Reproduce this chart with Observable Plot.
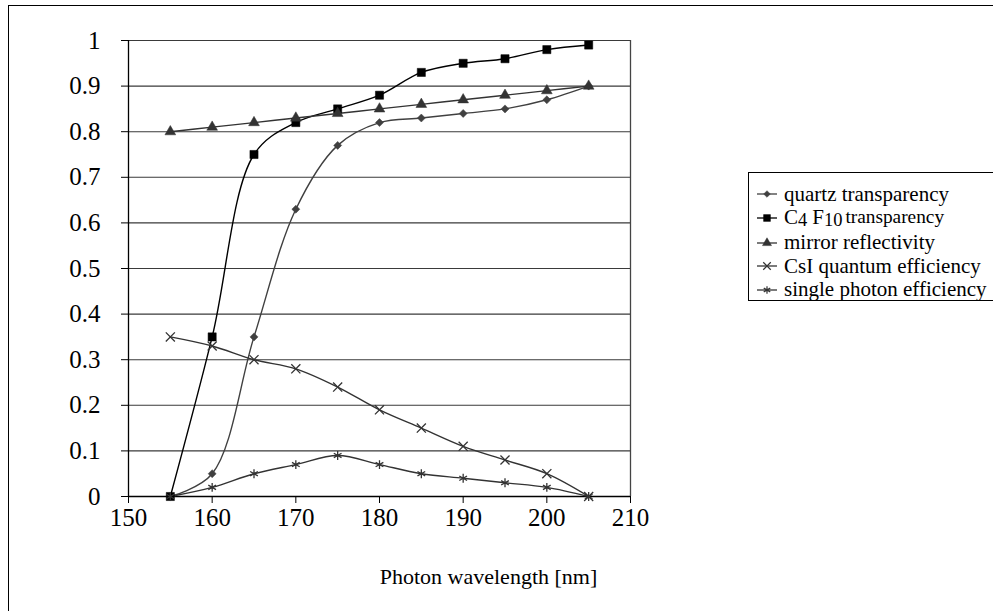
<!DOCTYPE html>
<html><head><meta charset="utf-8">
<script src="https://cdn.jsdelivr.net/npm/d3@7"></script>
<script src="https://cdn.jsdelivr.net/npm/@observablehq/plot@0.6"></script>
<style>
html,body{margin:0;padding:0;background:#fff;}
#wrap{position:relative;width:993px;height:611px;overflow:hidden;font-family:"Liberation Serif","Times New Roman",serif;}
#frame{position:absolute;left:8px;top:5px;width:1000px;height:620px;border:1.5px solid #000;box-sizing:border-box;}
#chart{position:absolute;left:0;top:0;}
#legend{position:absolute;left:748px;top:172px;width:260px;height:129px;border:1px solid #000;box-sizing:border-box;background:#fff;}
.item{position:absolute;left:8px;height:24px;display:flex;align-items:center;font-size:21px;color:#000;white-space:nowrap;line-height:1;}
.item svg{margin-right:7px;flex:none;}
.pc{display:inline-block;}
.sb{display:inline-block;position:relative;top:2px;font-size:88%;}
.up{display:inline-block;font-size:92%;position:relative;top:-1px;margin-left:3px;}
</style></head>
<body><div id="wrap"><div id="frame"></div><div id="chart"></div><div id="legend"></div></div>
<script>
const wavelength = [155,160,165,170,175,180,185,190,195,200,205];
const quartz = [0,0.05,0.35,0.63,0.77,0.82,0.83,0.84,0.85,0.87,0.90];
const c4f10 = [0,0.35,0.75,0.82,0.85,0.88,0.93,0.95,0.96,0.98,0.99];
const mirror = [0.80,0.81,0.82,0.83,0.84,0.85,0.86,0.87,0.88,0.89,0.90];
const csi = [0.35,0.33,0.30,0.28,0.24,0.19,0.15,0.11,0.08,0.05,0.00];
const single = [0,0.02,0.05,0.07,0.09,0.07,0.05,0.04,0.03,0.02,0.00];
const seriesNames = ["quartz transparency","C4F10 transparency","mirror reflectivity","CsI quantum efficiency","single photon efficiency"];
const yTicks = [0,0.1,0.2,0.3,0.4,0.5,0.6,0.7,0.8,0.9,1];
const xTicks = [150,160,170,180,190,200,210];

const seriesDefs = [
  {name: seriesNames[0], values: quartz, color: "#404040", symbol: "diamond2", r: 3.6, filled: true},
  {name: seriesNames[1], values: c4f10, color: "#000000", symbol: "square", r: 4.6, filled: true},
  {name: seriesNames[2], values: mirror, color: "#333333", symbol: "triangle", r: 4, filled: true},
  {name: seriesNames[3], values: csi, color: "#333333", symbol: "times", r: 4.2, filled: false},
  {name: seriesNames[4], values: single, color: "#333333", symbol: "asterisk", r: 4.2, filled: false}
];

const marks = [
  Plot.ruleY(yTicks, {stroke: "#3a3a3a", strokeWidth: 1.1}),
  Plot.ruleX([210], {stroke: "#444", strokeWidth: 1.3}),
  Plot.axisY(yTicks, {tickSize: 7, tickPadding: 21, tickFormat: d => String(+d.toFixed(1)), label: null, stroke: "#000", fontSize: 25}),
  Plot.axisX(xTicks, {tickSize: 7, tickPadding: 5, label: null, stroke: "#000", fontSize: 25}),
  Plot.ruleX([150], {stroke: "#000", strokeWidth: 1.3}),
  Plot.ruleY([0], {stroke: "#000", strokeWidth: 1.6}),
  Plot.text(["Photon wavelength [nm]"], {frameAnchor: "bottom", dx: 109, dy: 87, fontSize: 22, fill: "#000"})
];
for (const s of seriesDefs) {
  const data = wavelength.map((w, i) => ({w, v: s.values[i]}));
  marks.push(Plot.line(data, {x: "w", y: "v", stroke: s.color, strokeWidth: 1.4, curve: "catmull-rom"}));
}
for (const s of seriesDefs) {
  const data = wavelength.map((w, i) => ({w, v: s.values[i]}));
  marks.push(Plot.dot(data, {x: "w", y: "v", symbol: () => s.symbol, r: s.r,
    fill: s.filled ? s.color : "none", stroke: s.color, strokeWidth: s.filled ? 0.5 : 1.3}));
}

const chart = Plot.plot({
  width: 993, height: 611,
  marginLeft: 128, marginRight: 363, marginTop: 40, marginBottom: 115,
  x: {domain: [150, 210]},
  y: {domain: [0, 1]},
  symbol: {type: "identity"},
  style: {fontFamily: "'Liberation Serif','Times New Roman',serif", fontSize: "25px", background: "transparent", color: "#000"},
  marks
});
document.getElementById("chart").appendChild(chart);

// legend
const legend = document.getElementById("legend");
const labelsHTML = [
  "<span class='pc'>quartz transparency</span>",
  "<span class='pc'>C</span><span class='sb'>4</span><span class='pc' style='margin-left:5px'>F</span><span class='sb'>10</span><span class='up'>transparency</span>",
  "<span class='pc'>mirror reflectivity</span>",
  "<span class='pc'>CsI quantum efficiency</span>",
  "<span class='pc'>single photon efficiency</span>"
];
const rowTops = [9, 32.5, 57.5, 81, 104.5];
seriesDefs.forEach((s, i) => {
  const item = document.createElement("div");
  item.className = "item";
  item.style.top = rowTops[i] + "px";
  const sym = d3.create("svg").attr("width", 20).attr("height", 14);
  sym.append("line").attr("x1", 0).attr("x2", 20).attr("y1", 7).attr("y2", 7).attr("stroke", s.color).attr("stroke-width", 1.3);
  const symType = {diamond2: d3.symbolDiamond2, square: d3.symbolSquare, triangle: d3.symbolTriangle, times: d3.symbolTimes, asterisk: d3.symbolAsterisk}[s.symbol];
  sym.append("path").attr("transform", "translate(10,7)")
    .attr("d", d3.symbol(symType, Math.PI * s.r * s.r * 0.7)())
    .attr("fill", s.filled ? s.color : "none").attr("stroke", s.color).attr("stroke-width", s.filled ? 0.5 : 1.2);
  item.appendChild(sym.node());
  const span = document.createElement("span");
  span.innerHTML = labelsHTML[i];
  item.appendChild(span);
  legend.appendChild(item);
});
</script></body></html>
